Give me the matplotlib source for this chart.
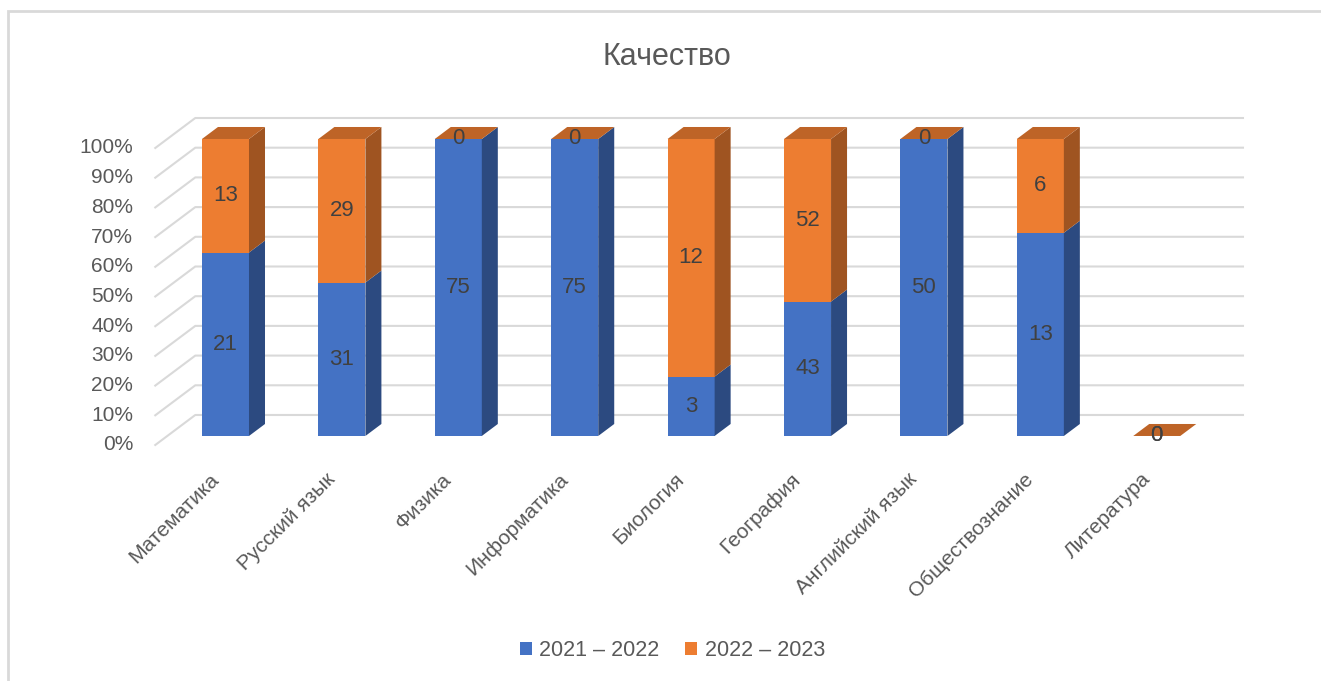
import matplotlib.pyplot as plt
from matplotlib.patches import Polygon, Patch, Rectangle

plt.rcParams['font.family'] = ['Liberation Sans', 'DejaVu Sans']

# data
subjects = ['Математика', 'Русский язык', 'Физика', 'Информатика', 'Биология',
            'География', 'Английский язык', 'Обществознание', 'Литература']
year_2122 = [21, 31, 75, 75, 3, 43, 50, 13, 0]
year_2223 = [13, 29, 0, 0, 12, 52, 0, 6, 0]
series_names = ['2021 – 2022', '2022 – 2023']
tick_vals = [0, 10, 20, 30, 40, 50, 60, 70, 80, 90, 100]

# colours
blue = '#4472C4'; blue_side = '#2C4A80'
orange = '#ED7D31'; orange_side = '#9F5421'; orange_top = '#BE6427'
grid_col = '#D9D9D9'
txt_col = '#595959'
lbl_col = '#404040'

# fake 3d geometry (category units / percent units)
BAR_W = 0.404
DX = 0.1375
DY = 4.04
D_FRONT = -0.75
D_BACK = 1.75

def P(x, v, d):
    return (x + d*DX, v + d*DY)

fig = plt.figure(figsize=(13.21, 6.81), dpi=100)
ax = fig.add_axes([0, 0, 1, 1])
ax.set_xlim(-1.937, 9.411)
ax.set_ylim(-82.5, 146.8)
ax.axis('off')

# chart frame (only top/left edges are inside the picture)
fig.add_artist(Rectangle((8/1321, -0.2), 1.2, 0.2 + (681-11)/681,
                         transform=fig.transFigure, fill=False,
                         edgecolor=grid_col, linewidth=2))

x_left = -0.5
x_right = len(subjects) - 0.5

# gridlines + y tick labels
for v in tick_vals:
    a = P(x_left, v, D_FRONT); b = P(x_left, v, D_BACK); c = P(x_right, v, D_BACK)
    ax.plot([a[0], b[0], c[0]], [a[1], b[1], c[1]], color=grid_col, lw=1.5, zorder=1)
    ax.text(a[0] - 0.19, a[1], f'{v}%', ha='right', va='center',
            fontsize=15, color=txt_col)

def face(pts, col):
    ax.add_patch(Polygon([P(*p) for p in pts], closed=True, facecolor=col,
                         edgecolor='none', zorder=3))

for i, subj in enumerate(subjects):
    tot = year_2122[i] + year_2223[i]
    p1 = year_2122[i] / tot * 100 if tot else 0
    p2 = year_2223[i] / tot * 100 if tot else 0
    x0 = i - BAR_W/2; x1 = i + BAR_W/2
    segs = [(0, p1, blue, blue_side, year_2122[i]),
            (p1, p1 + p2, orange, orange_side, year_2223[i])]
    for v0, v1, fc, sc, val in segs:
        face([(x0, v0, 0), (x1, v0, 0), (x1, v1, 0), (x0, v1, 0)], fc)
        face([(x1, v0, 0), (x1, v0, 1), (x1, v1, 1), (x1, v1, 0)], sc)
    top = p1 + p2
    face([(x0, top, 0), (x1, top, 0), (x1, top, 1), (x0, top, 1)], orange_top)
    for v0, v1, fc, sc, val in segs:
        ax.text(i, (v0 + v1) / 2, str(val), ha='center', va='center',
                fontsize=16, color=lbl_col, zorder=5)
    lx, ly = P(i + 0.02, -10.5, D_FRONT)
    ax.text(lx, ly, subj, rotation=45, rotation_mode='anchor', ha='right',
            va='center', fontsize=15, color=txt_col)

ax.text(3.79, 127.6, 'Качество', ha='center', va='center',
        fontsize=22, color=txt_col)

handles = [Patch(facecolor=blue, edgecolor='none'),
           Patch(facecolor=orange, edgecolor='none')]
leg = ax.legend(handles, series_names, loc='center', bbox_to_anchor=(0.509, 0.045),
                ncol=2, frameon=False, fontsize=15.5, handlelength=0.55,
                handleheight=0.55, handletextpad=0.35, columnspacing=1.2)
for t in leg.get_texts():
    t.set_color(txt_col)

fig.savefig('out.png', dpi=100)
